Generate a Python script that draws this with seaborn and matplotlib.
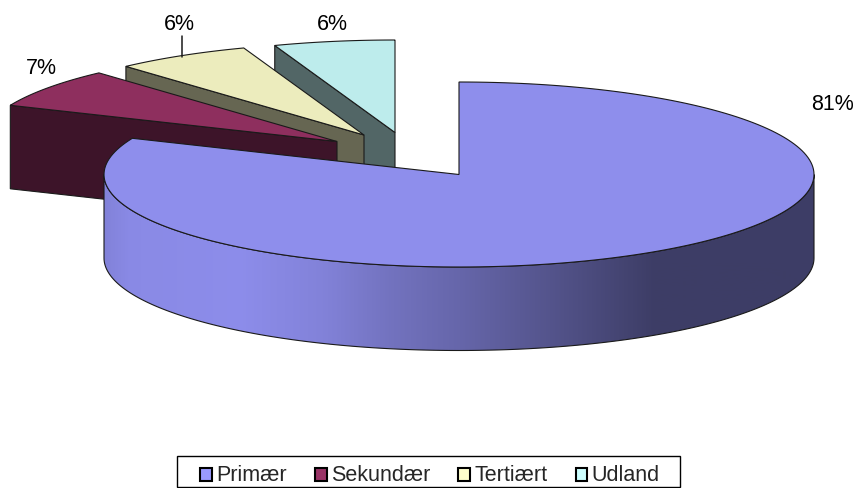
import numpy as np
import matplotlib
matplotlib.use('Agg')
import matplotlib.pyplot as plt
from matplotlib.patches import Polygon, Rectangle
import seaborn as sns

categories = ['Primær', 'Sekundær', 'Tertiært', 'Udland']
shares = [81.4, 6.9, 6.2, 5.5]
base_colors = ['#9999FF', '#993366', '#FFFFCC', '#CCFFFF']

# layout, in pixels of the 858x488 picture
CX, CY, RX, RY, DEPTH = 459, 174.5, 355, 92.5, 83.5
explode = [(0, 0), (-122, -33), (-95, -39.5), (-64, -42)]
label_pos = [(833, 104.5), (41, 68.5), (179, 24.5), (332, 24.5)]
TOP_SHADE, SIDE_SHADE = 0.925, 0.40
EDGE = '#1a1a1a'

sns.set_theme(style='white')
plt.rcParams['font.family'] = ['Liberation Sans', 'DejaVu Sans']
palette = sns.color_palette(base_colors)


def shade(color, factor):
    return tuple(c * factor for c in color)


def arc(a0, a1, dx=0, dy=0):
    t = np.radians(np.linspace(a0, a1, 200))
    return np.column_stack([CX + dx + RX * np.sin(t), CY + dy - RY * np.cos(t)])


fig = plt.figure(figsize=(8.58, 4.88), dpi=100, facecolor='white')
ax = fig.add_axes([0, 0, 1, 1])

edges = np.cumsum([0] + shares) * 3.6

# back to front, so each slice covers the wall of the one behind it
for i in [3, 2, 1]:
    dx, dy = explode[i]
    outer = arc(edges[i], edges[i + 1], dx, dy)
    apex = np.array([[CX + dx, CY + dy]])
    wall = np.vstack([outer[:1], apex, apex + [0, DEPTH], outer[:1] + [0, DEPTH]])
    ax.add_patch(Polygon(wall, closed=True, fc=shade(palette[i], SIDE_SHADE), ec=EDGE, lw=0.8))
    ax.add_patch(Polygon(np.vstack([apex, outer]), closed=True, fc=shade(palette[i], TOP_SHADE), ec=EDGE, lw=0.8))

# front rim of the big slice, with its sideways light falloff
front = arc(90, 270)
rim = np.vstack([front, front[::-1] + [0, DEPTH]])
rim_patch = Polygon(rim, closed=True, fc='none', ec=EDGE, lw=0.8, zorder=3)
ax.add_patch(rim_patch)
xs = np.arange(CX - RX, CX + RX + 1)
factor = np.interp(xs, [104, 130, 240, 323, 390, 457, 550, 655, 814],
                   [0.85, 0.90, 0.92, 0.85, 0.75, 0.67, 0.55, 0.40, 0.40])
grad = np.outer(factor, palette[0]).reshape(1, len(xs), 3)
img = ax.imshow(grad, extent=(CX - RX, CX + RX, CY + RY + DEPTH, CY), aspect='auto', zorder=2)
img.set_clip_path(rim_patch)

top = np.vstack([[[CX, CY]], arc(edges[0], edges[1])])
ax.add_patch(Polygon(top, closed=True, fc=shade(palette[0], TOP_SHADE), ec=EDGE, lw=0.8, zorder=4))

for (x, y), v in zip(label_pos, shares):
    ax.text(x, y, f'{v:.0f}%', ha='center', va='center', fontsize=15.5, color='black')
ax.plot([182, 182], [36, 57], color=EDGE, lw=1.1, zorder=1)

ax.add_patch(Rectangle((177, 456), 503, 31, fc='white', ec='black', lw=1))
handles = [Rectangle((0, 0), 1, 1, fc=c, ec='black', lw=1.5) for c in palette]
leg = ax.legend(handles, categories, ncol=4, loc='center', bbox_to_anchor=(430, 475.5),
                bbox_transform=ax.transData, frameon=False, fontsize=15.5,
                handlelength=0.55, handleheight=0.55, handletextpad=0.2, columnspacing=1.3,
                borderpad=0, borderaxespad=0, labelspacing=0)
for h in leg.legend_handles:
    h.set_y(h.get_y() - 1)

ax.set_xlim(0, 858)
ax.set_ylim(488, 0)
ax.axis('off')
fig.savefig('out.png', dpi=100)
